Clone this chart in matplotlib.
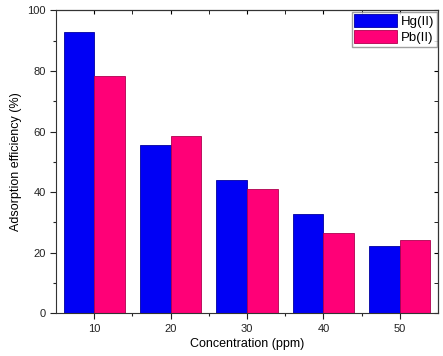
import numpy as np
import matplotlib
matplotlib.use('Agg')
import matplotlib.pyplot as plt

conc = [10, 20, 30, 40, 50]
hg = [92.8, 55.7, 44.0, 32.8, 22.1]
pb = [78.2, 58.4, 41.0, 26.5, 24.3]

plt.rcParams['font.family'] = 'Liberation Sans'

fig = plt.figure(figsize=(4.43, 3.56), dpi=100)
ax = fig.add_axes([0.1264, 0.12, 0.8623, 0.851])

x = np.array(conc)
ax.bar(x - 2, hg, width=4, color='#0000f5', edgecolor='#0000a0', linewidth=0.6, label='Hg(II)')
ax.bar(x + 2, pb, width=4, color='#ff0077', edgecolor='#b0004f', linewidth=0.6, label='Pb(II)')

ax.set_xlim(5, 55)
ax.set_ylim(0, 100)
ax.set_xticks(conc)
ax.set_xticks([15, 25, 35, 45], minor=True)
ax.set_yticks([0, 20, 40, 60, 80, 100])
ax.set_yticks([10, 30, 50, 70, 90], minor=True)
ax.tick_params(which='both', direction='out', labelsize=8, width=0.8, colors='#222222')
ax.tick_params(which='major', length=4)
ax.tick_params(which='minor', length=2.5)

# mirrored ticks on top and right, pointing inward
sx = ax.secondary_xaxis('top')
sx.set_xticks(conc)
sx.set_xticks([15, 25, 35, 45], minor=True)
sx.tick_params(which='both', direction='in', labeltop=False, length=3)
sy = ax.secondary_yaxis('right')
sy.set_yticks([0, 20, 40, 60, 80, 100])
sy.set_yticks([10, 30, 50, 70, 90], minor=True)
sy.tick_params(which='both', direction='in', labelright=False, length=3)
for s in ax.spines.values():
    s.set_linewidth(0.8)
    s.set_color('#333333')

ax.set_xlabel('Concentration (ppm)', fontsize=9, labelpad=3)
ax.set_ylabel('Adsorption efficiency (%)', fontsize=9, labelpad=4)

ax.legend(loc='upper right', fontsize=9.5, frameon=True, fancybox=False, edgecolor='#888888',
          handlelength=3.2, handleheight=1.1, borderaxespad=0.1, borderpad=0.2,
          labelspacing=0.15, handletextpad=0.3)

fig.savefig('out.png', dpi=100)
